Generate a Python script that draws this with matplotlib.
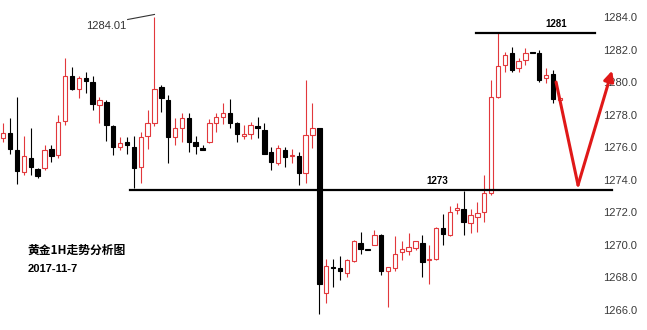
import matplotlib
matplotlib.use("Agg")
import matplotlib.pyplot as plt
import numpy as np

# gold 1H candles (open, high, low, close)
opens = [1276.55, 1276.86, 1275.8, 1274.46, 1275.3, 1274.65, 1274.7, 1275.9, 1275.5, 1277.6,
         1280.37, 1279.6, 1280.25, 1280.0, 1278.6, 1278.8, 1277.3, 1276.0, 1276.3, 1276.0,
         1274.77, 1276.7, 1277.5, 1279.7, 1278.9, 1276.6, 1277.2, 1277.8, 1276.3, 1275.94,
         1276.3, 1277.5, 1277.85, 1278.1, 1277.5, 1276.7, 1276.8, 1277.3, 1277.05, 1275.7,
         1275.0, 1275.8, 1275.42, 1275.45, 1274.4, 1276.74, 1277.2, 1267.0, 1268.6, 1268.55,
         1268.25, 1269.0, 1270.1, 1269.75, 1270.0, 1270.6, 1268.4, 1268.55, 1269.55, 1269.6,
         1269.8, 1270.1, 1269.05, 1269.1, 1271.0, 1270.6, 1272.1, 1272.2, 1271.3, 1271.7,
         1272.0, 1273.2, 1279.1, 1281.05, 1281.8, 1280.85, 1281.35, 1281.85, 1281.8, 1280.25,
         1280.5, 1278.9]
highs = [1277.5, 1277.8, 1279.1, 1276.7, 1277.2, 1274.7, 1276.1, 1276.1, 1278.0, 1281.5,
         1280.9, 1280.4, 1280.6, 1280.37, 1279.1, 1278.9, 1277.35, 1276.6, 1276.6, 1276.7,
         1276.9, 1278.3, 1284.01, 1279.8, 1279.2, 1277.8, 1278.1, 1278.1, 1276.7, 1276.1,
         1277.7, 1278.1, 1278.7, 1278.95, 1277.55, 1277.35, 1277.55, 1277.85, 1277.5, 1276.0,
         1276.1, 1276.0, 1275.9, 1275.7, 1280.1, 1278.7, 1277.2, 1269.1, 1269.1, 1269.3,
         1269.1, 1270.3, 1270.8, 1269.75, 1270.9, 1270.65, 1268.6, 1270.5, 1270.2, 1270.7,
         1270.2, 1270.6, 1270.0, 1271.1, 1271.9, 1272.37, 1272.55, 1273.3, 1272.2, 1272.6,
         1274.3, 1280.1, 1283.0, 1281.85, 1282.15, 1281.5, 1282.1, 1281.85, 1281.97, 1280.86,
         1280.75, 1279.0]
lows = [1276.3, 1275.6, 1273.7, 1274.3, 1274.3, 1274.1, 1274.6, 1275.1, 1275.3, 1277.35,
        1279.5, 1279.0, 1279.3, 1278.3, 1277.5, 1276.4, 1275.5, 1275.8, 1275.6, 1273.5,
        1273.8, 1275.9, 1277.3, 1278.15, 1275.0, 1276.1, 1276.3, 1275.7, 1275.6, 1275.8,
        1276.25, 1276.9, 1277.4, 1277.2, 1276.3, 1276.5, 1276.5, 1276.55, 1275.6, 1274.6,
        1274.9, 1274.8, 1275.0, 1273.66, 1273.8, 1275.94, 1265.7, 1266.4, 1267.4, 1267.8,
        1268.0, 1268.9, 1269.4, 1269.65, 1270.0, 1268.1, 1266.15, 1268.4, 1269.05, 1269.35,
        1269.66, 1268.0, 1267.6, 1269.05, 1270.0, 1270.5, 1271.9, 1270.6, 1270.7, 1270.77,
        1271.4, 1273.05, 1279.0, 1280.6, 1280.6, 1280.6, 1281.05, 1281.8, 1280.0, 1279.94,
        1278.7, 1278.85]
closes = [1276.86, 1275.88, 1274.5, 1275.45, 1274.77, 1274.2, 1275.8, 1275.45, 1277.55, 1280.37,
          1279.57, 1280.25, 1280.05, 1278.65, 1278.9, 1277.35, 1276.0, 1276.25, 1276.1, 1274.7,
          1276.6, 1277.5, 1279.6, 1279.0, 1276.6, 1277.17, 1277.8, 1276.3, 1276.06, 1275.8,
          1277.5, 1277.85, 1278.1, 1277.5, 1276.8, 1276.8, 1277.35, 1277.17, 1275.6, 1275.1,
          1275.94, 1275.4, 1275.48, 1274.4, 1276.74, 1277.17, 1267.6, 1268.7, 1268.55, 1268.4,
          1269.05, 1270.2, 1269.7, 1269.65, 1270.6, 1268.4, 1268.6, 1269.4, 1269.7, 1269.85,
          1270.2, 1268.9, 1269.1, 1271.0, 1270.65, 1272.0, 1272.25, 1271.4, 1271.8, 1271.94,
          1273.2, 1279.1, 1281.0, 1281.66, 1280.75, 1281.3, 1281.8, 1281.8, 1280.1, 1280.43,
          1278.95, 1279.0]

yticks = [1266.0, 1268.0, 1270.0, 1272.0, 1274.0, 1276.0, 1278.0, 1280.0, 1282.0, 1284.0]
support = 1273.35
resistance = 1283.0
peak_label = "1284.01"
title = "黄金1H走势分析图"
date = "2017-11-7"

RED = "#e2383c"

o = np.array(opens)
h = np.array(highs)
l = np.array(lows)
c = np.array(closes)
x = np.arange(len(o))
up = c >= o

fig = plt.figure(figsize=(6.47, 3.30), dpi=100)
ax = fig.add_axes([0, 0, 599 / 647, 1])

ax.vlines(x[up], l[up], h[up], color=RED, linewidth=0.8, zorder=2)
ax.vlines(x[~up], l[~up], h[~up], color="black", linewidth=0.8, zorder=2)

body_lo = np.minimum(o, c)
body_h = np.maximum(np.abs(c - o), 0.08)
ax.bar(x[up], body_h[up], bottom=body_lo[up], width=0.64,
       facecolor="white", edgecolor=RED, linewidth=0.8, zorder=3)
ax.bar(x[~up], body_h[~up], bottom=body_lo[~up], width=0.64,
       facecolor="black", edgecolor="black", linewidth=0.8, zorder=3)

# support / resistance
ax.plot([18.4, 88.6], [support, support], color="black", linewidth=1.6, clip_on=False, zorder=4)
ax.plot([68.8, 86.1], [resistance, resistance], color="black", linewidth=1.6, clip_on=False, zorder=4)
ax.text(63.2, support + 0.55, "1273", fontsize=7, fontweight="bold", family="Liberation Sans",
        ha="center", va="center")
ax.text(80.4, resistance + 0.6, "1281", fontsize=7, fontweight="bold", family="Liberation Sans",
        ha="center", va="center")

# peak label with leader line
peak_i = int(np.argmax(h[:40]))
ax.plot([18.1, peak_i], [1283.85, h[peak_i] + 0.15], color="#333333", linewidth=0.8)
ax.text(12.0, 1283.45, peak_label, fontsize=8, color="#333333", family="Liberation Sans",
        ha="left", va="center")

# projected path
ax.plot([80.45, 83.65], [1280.0, 1273.66], color="#e01818", linewidth=2.2,
        solid_capstyle="round", zorder=5)
ax.annotate("", xy=(88.6, 1280.7), xytext=(83.65, 1273.66), annotation_clip=False,
            arrowprops=dict(arrowstyle="-|>,head_length=0.6,head_width=0.3", color="#e01818",
                            linewidth=2.2, shrinkA=0, shrinkB=0), zorder=5)

fig.text(27 / 647, 1 - 250 / 330, title, fontsize=8.5, fontweight="bold",
         family=["Noto Sans CJK SC", "DejaVu Sans"], ha="left", va="center")
fig.text(28 / 647, 1 - 269 / 330, date, fontsize=8, fontweight="bold",
         family="Liberation Sans", ha="left", va="center")

ax.set_xlim(-0.48, 86.7)
ax.set_ylim(1264.74, 1285.05)
ax.yaxis.tick_right()
ax.set_yticks(yticks)
ax.set_yticklabels([f"{t:.1f}" for t in yticks], fontsize=8, color="#3a3a3a",
                   family="Liberation Sans")
ax.tick_params(axis="y", length=0, pad=3)
ax.set_xticks([])
for s in ax.spines.values():
    s.set_visible(False)

fig.savefig("out.png", dpi=100)
